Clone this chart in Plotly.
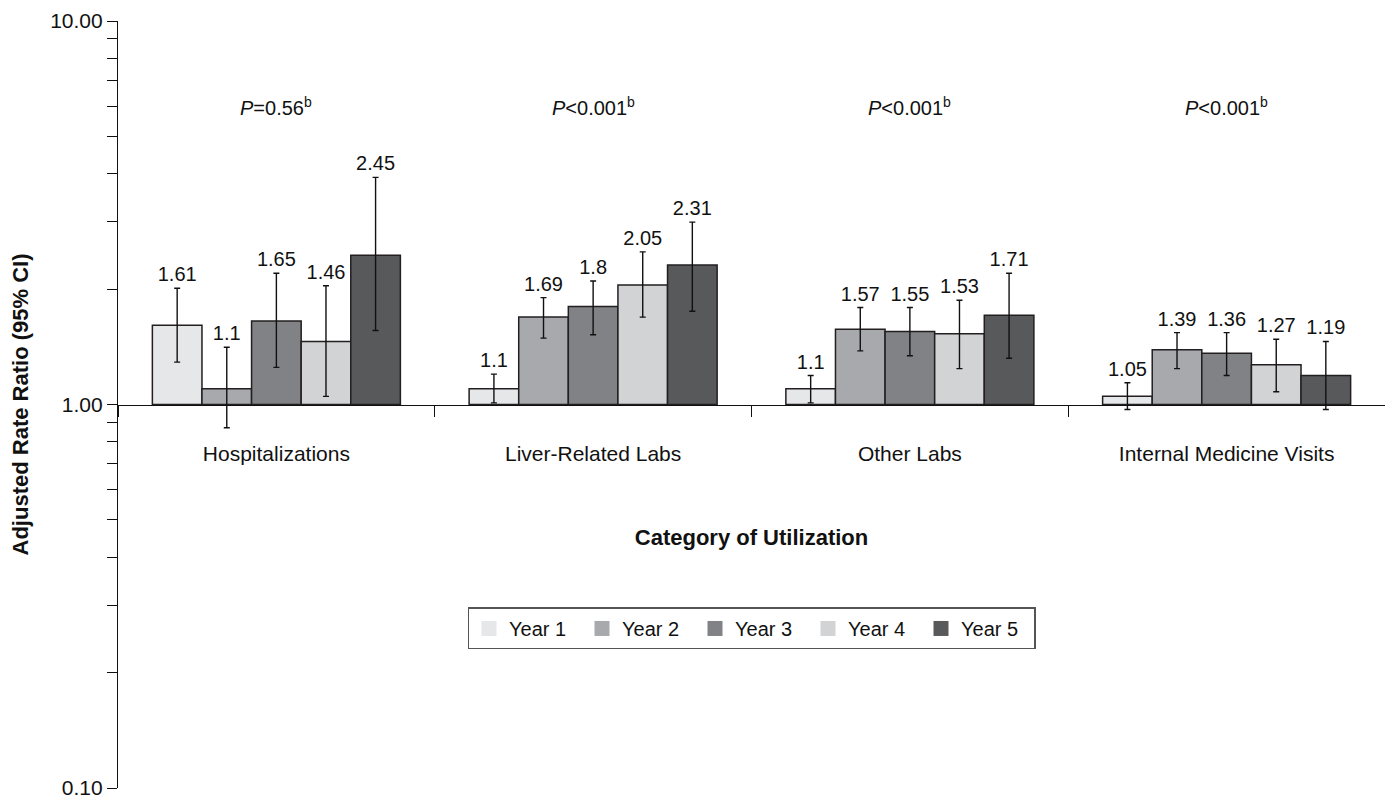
import plotly.graph_objects as go
import math

categories = ["Hospitalizations", "Liver-Related Labs", "Other Labs", "Internal Medicine Visits"]
years = ["Year 1", "Year 2", "Year 3", "Year 4", "Year 5"]

rr_year1 = [1.61, 1.10, 1.10, 1.05]
rr_year2 = [1.10, 1.69, 1.57, 1.39]
rr_year3 = [1.65, 1.80, 1.55, 1.36]
rr_year4 = [1.46, 2.05, 1.53, 1.27]
rr_year5 = [2.45, 2.31, 1.71, 1.19]

lo_year1 = [1.29, 1.01, 1.01, 0.97]
lo_year2 = [0.87, 1.49, 1.38, 1.24]
lo_year3 = [1.25, 1.52, 1.34, 1.19]
lo_year4 = [1.05, 1.69, 1.24, 1.08]
lo_year5 = [1.56, 1.75, 1.32, 0.97]

hi_year1 = [2.01, 1.20, 1.19, 1.14]
hi_year2 = [1.41, 1.90, 1.79, 1.54]
hi_year3 = [2.20, 2.10, 1.79, 1.54]
hi_year4 = [2.04, 2.50, 1.87, 1.48]
hi_year5 = [3.91, 2.99, 2.20, 1.46]

value_labels = {
    "Year 1": ["1.61", "1.1", "1.1", "1.05"],
    "Year 2": ["1.1", "1.69", "1.57", "1.39"],
    "Year 3": ["1.65", "1.8", "1.55", "1.36"],
    "Year 4": ["1.46", "2.05", "1.53", "1.27"],
    "Year 5": ["2.45", "2.31", "1.71", "1.19"],
}

p_labels = ["<i>P</i>=0.56<sup>b</sup>", "<i>P</i>&lt;0.001<sup>b</sup>",
            "<i>P</i>&lt;0.001<sup>b</sup>", "<i>P</i>&lt;0.001<sup>b</sup>"]
p_label_level = 6.0

y_tickvals = [0.1, 1, 10]
y_ticktext = ["0.10", "1.00", "10.00"]
y_minor_tickvals = [0.2, 0.3, 0.4, 0.5, 0.6, 0.7, 0.8, 0.9,
                    2, 3, 4, 5, 6, 7, 8, 9]

colors = ["#e6e7e8", "#a7a9ac", "#808285", "#d1d3d4", "#58595b"]
FONT = "Liberation Sans, Arial, Helvetica, sans-serif"
baseline = 1.0

rr = [rr_year1, rr_year2, rr_year3, rr_year4, rr_year5]
lo = [lo_year1, lo_year2, lo_year3, lo_year4, lo_year5]
hi = [hi_year1, hi_year2, hi_year3, hi_year4, hi_year5]

fig = go.Figure()
for i, yr in enumerate(years):
    vals = rr[i]
    fig.add_trace(go.Bar(
        name=yr, x=categories,
        y=[v - baseline for v in vals], base=baseline,
        offsetgroup=yr, showlegend=False,
        marker=dict(color=colors[i], line=dict(color="#231f20", width=1.5)),
        error_y=dict(type="data", symmetric=False,
                     array=[h - v for h, v in zip(hi[i], vals)],
                     arrayminus=[v - l for v, l in zip(vals, lo[i])],
                     color="#111111", thickness=1.4, width=3),
        hoverinfo="skip",
    ))
# invisible bars reaching the upper CI carry the value labels
for i, yr in enumerate(years):
    fig.add_trace(go.Bar(
        name=yr + " label", x=categories,
        y=[h - baseline for h in hi[i]], base=baseline,
        offsetgroup=yr, showlegend=False,
        marker=dict(color="rgba(0,0,0,0)", line=dict(width=0)),
        text=value_labels[yr], textposition="outside",
        textfont=dict(family=FONT, size=20, color="#111111"),
        cliponaxis=False, hoverinfo="skip",
    ))
# legend swatches (plain filled squares, no outline)
for i, yr in enumerate(years):
    fig.add_trace(go.Scatter(
        name=yr, x=[None], y=[None], mode="markers",
        marker=dict(symbol="square", size=15, color=colors[i], line=dict(width=0)),
        showlegend=True, hoverinfo="skip",
    ))

annotations = []
for c, t in zip(categories, p_labels):
    annotations.append(dict(x=c, y=math.log10(p_label_level), xref="x", yref="y",
                            text=t, showarrow=False,
                            font=dict(family=FONT, size=20, color="#111111")))

fig.update_layout(
    width=1385, height=795,
    margin=dict(l=110, r=8, t=13, b=15, autoexpand=False),
    paper_bgcolor="white", plot_bgcolor="white",
    barmode="group", bargap=0.217, bargroupgap=0,
    font=dict(family=FONT, size=20, color="#111111"),
    xaxis=dict(
        anchor="free", position=0.5, automargin=False,
        showline=True, linecolor="#111111", linewidth=1.2,
        ticks="outside", tickson="boundaries", ticklen=11, tickcolor="#111111",
        tickwidth=1.2,
        tickfont=dict(family=FONT, size=21, color="#111111"),
        ticklabelstandoff=30,
        showgrid=False, zeroline=False,
        title=dict(text="<b>Category of Utilization</b>", standoff=65,
                   font=dict(family=FONT, size=22, color="#111111")),
    ),
    yaxis=dict(
        type="log", range=[-1, 1], automargin=False,
        tickvals=y_tickvals, ticktext=y_ticktext,
        ticklabeloverflow="allow",
        ticks="outside", ticklen=10, tickcolor="#111111", tickwidth=1.2,
        minor=dict(tickvals=y_minor_tickvals, ticks="outside", ticklen=10,
                   tickcolor="#111111", tickwidth=1.2, showgrid=False),
        showline=True, linecolor="#111111", linewidth=1.2,
        tickfont=dict(family=FONT, size=21, color="#111111"),
        showgrid=False, zeroline=False,
        title=dict(text="<b>Adjusted Rate Ratio (95% CI)</b>", standoff=31,
                   font=dict(family=FONT, size=22, color="#111111")),
    ),
    legend=dict(
        orientation="h", x=0.5, xanchor="center", y=0.208, yanchor="middle",
        bordercolor="#555555", borderwidth=1.5, bgcolor="white",
        font=dict(family=FONT, size=20, color="#111111"),
        itemwidth=30, entrywidth=68, entrywidthmode="pixels", traceorder="normal",
    ),
    annotations=annotations,
)

fig.write_html("out.html")
